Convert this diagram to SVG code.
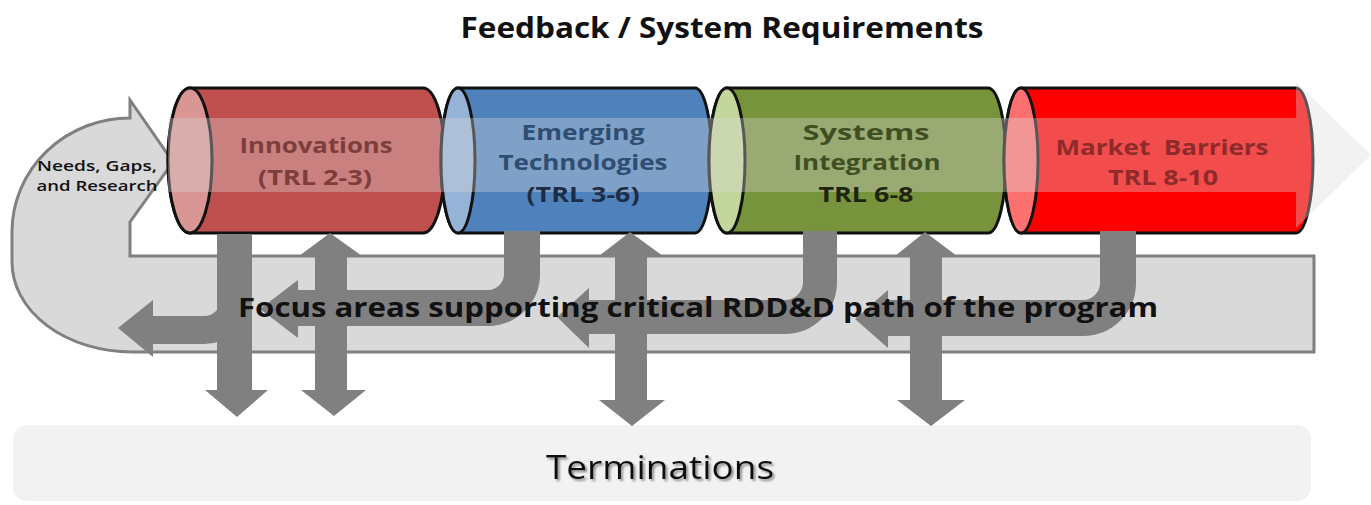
<svg xmlns="http://www.w3.org/2000/svg" width="1371" height="505" viewBox="0 0 1371 505">
<defs>
<style>
.t{font-family:"Open Sans","Liberation Sans",sans-serif;text-anchor:middle}
.b{font-weight:bold}
.cyl{stroke:#111;stroke-width:3}
.conn{fill:none;stroke:#808080}
.head{fill:#808080}
</style>
<filter id="sh" x="-10%" y="-30%" width="130%" height="180%">
<feDropShadow dx="2" dy="2" stdDeviation="1" flood-color="#777" flood-opacity="0.8"/>
</filter>
</defs>
<rect width="1371" height="505" fill="#fff"/>
<text class="t b" x="722" y="38" font-size="28" textLength="523" lengthAdjust="spacingAndGlyphs" fill="#111">Feedback / System Requirements</text>

<g id="terminations">
<rect x="13" y="425" width="1298" height="76" rx="14" fill="#f2f2f2"/>
<text class="t" x="660" y="479" font-size="32" textLength="228" lengthAdjust="spacingAndGlyphs" fill="#111" filter="url(#sh)">Terminations</text>
</g>

<g id="needs-loop">
<path d="M130,100 L173,162 L130,222 V256 H1314 V352 H132 A120,90 0 0 1 12,262 V232 A118,114 0 0 1 130,118 Z" fill="#d9d9d9" stroke="#808080" stroke-width="3"/>
<text class="t" x="97" y="171" font-size="14" font-weight="600" textLength="120" lengthAdjust="spacingAndGlyphs" fill="#111">Needs, Gaps,</text>
<text class="t" x="97" y="191" font-size="14" font-weight="600" textLength="121" lengthAdjust="spacingAndGlyphs" fill="#111">and Research</text>
</g>

<g id="innovations">
<path class="cyl" d="M190,88 H423 A22,72.5 0 0 1 423,233 H190 A22,72.5 0 0 1 190,88 Z" fill="#c0504d"/>
<ellipse class="cyl" cx="190" cy="160.5" rx="22" ry="72.5" fill="#d99694"/>
</g>
<g id="emerging">
<path class="cyl" d="M458,88 H695 A17,72.5 0 0 1 695,233 H458 A17,72.5 0 0 1 458,88 Z" fill="#4f81bd"/>
<ellipse class="cyl" cx="458" cy="160.5" rx="17" ry="72.5" fill="#95b3d7"/>
</g>
<g id="systems">
<path class="cyl" d="M727,88 H988 A18,72.5 0 0 1 988,233 H727 A18,72.5 0 0 1 727,88 Z" fill="#77933c"/>
<ellipse class="cyl" cx="727" cy="160.5" rx="18" ry="72.5" fill="#c3d69b"/>
</g>
<g id="market">
<path class="cyl" d="M1021,88 H1296 A17,72.5 0 0 1 1296,233 H1021 A17,72.5 0 0 1 1021,88 Z" fill="#ff0000"/>
<ellipse class="cyl" cx="1021" cy="160.5" rx="17" ry="72.5" fill="#ff7171"/>
</g>

<g id="progress-arrow">
<path d="M168,118 H1296 V82 L1371,155 L1296,228 V192 H168 Z" fill="#d9d9d9" fill-opacity="0.35"/>
</g>

<g id="labels">
<text class="t b" x="316" y="153" font-size="21" textLength="153" lengthAdjust="spacingAndGlyphs" fill="#7d3d3b">Innovations</text>
<text class="t b" x="315" y="185" font-size="21" textLength="114" lengthAdjust="spacingAndGlyphs" fill="#7d3d3b">(TRL 2-3)</text>
<text class="t b" x="583" y="140" font-size="21" textLength="123" lengthAdjust="spacingAndGlyphs" fill="#2e4d70">Emerging</text>
<text class="t b" x="583" y="170" font-size="21" textLength="169" lengthAdjust="spacingAndGlyphs" fill="#2e4d70">Technologies</text>
<text class="t b" x="583" y="202" font-size="21" textLength="113" lengthAdjust="spacingAndGlyphs" fill="#1c2d45">(TRL 3-6)</text>
<text class="t b" x="866" y="140" font-size="21" textLength="127" lengthAdjust="spacingAndGlyphs" fill="#3f4f22">Systems</text>
<text class="t b" x="867" y="170" font-size="21" textLength="147" lengthAdjust="spacingAndGlyphs" fill="#3f4f22">Integration</text>
<text class="t b" x="866" y="202" font-size="21" textLength="95" lengthAdjust="spacingAndGlyphs" fill="#1e2410">TRL 6-8</text>
<text class="t b" x="1162" y="155" font-size="21" textLength="213" lengthAdjust="spacingAndGlyphs" fill="#8f2a2a" xml:space="preserve">Market  Barriers</text>
<text class="t b" x="1163" y="185" font-size="21" textLength="110" lengthAdjust="spacingAndGlyphs" fill="#8f2a2a">TRL 8-10</text>
</g>

<g id="connectors">
<path class="conn" stroke-width="35" d="M234.5,234 V391"/>
<polygon class="head" points="205,390 268,390 237,417"/>
<path class="conn" stroke-width="28" d="M234.5,250 V300 A30,30 0 0 1 204.5,330 H151"/>
<polygon class="head" points="153,300 118,328 153,357"/>

<path class="conn" stroke-width="32" d="M331,255 V391"/>
<polygon class="head" points="299,256 362,256 330,233"/>
<polygon class="head" points="301,390 366,390 334,416"/>

<path class="conn" stroke-width="36" d="M522,231 V274 A34,34 0 0 1 488,308 H296"/>
<polygon class="head" points="298,280 298,338 260,309"/>

<path class="conn" stroke-width="32" d="M631,255 V401"/>
<polygon class="head" points="599,256 663,256 630,232"/>
<polygon class="head" points="599,400 665,400 632,426"/>

<path class="conn" stroke-width="34" d="M820,231 V282 A35,35 0 0 1 785,317 H587"/>
<polygon class="head" points="589,288 589,348 557,317"/>

<path class="conn" stroke-width="32" d="M926,255 V401"/>
<polygon class="head" points="895,256 957,256 925,232"/>
<polygon class="head" points="897,400 965,400 931,426"/>

<path class="conn" stroke-width="36" d="M1118,231 V283 A35,35 0 0 1 1083,318 H886"/>
<polygon class="head" points="888,290 888,348 855,319"/>
</g>

<text class="t b" x="698" y="317" font-size="26" textLength="920" lengthAdjust="spacingAndGlyphs" fill="#111">Focus areas supporting critical RDD&amp;D path of the program</text>
</svg>
